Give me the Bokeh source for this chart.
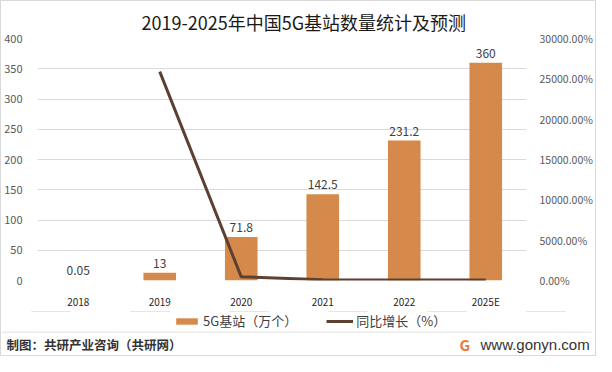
from bokeh.plotting import figure
from bokeh.layouts import column
from bokeh.models import (ColumnDataSource, LinearAxis, Range1d, FixedTicker,
                          CustomJSTickFormatter, Legend, LegendItem, Label,
                          BoxAnnotation, FactorRange)
from bokeh.embed import file_html
from bokeh.resources import INLINE
from bokeh.core.properties import value

# ---- data ----
years = ["2018", "2019", "2020", "2021", "2022", "2025E"]
stations = [0.05, 13, 71.8, 142.5, 231.2, 360]
station_labels = ["0.05", "13", "71.8", "142.5", "231.2", "360"]
growth_years = ["2019", "2020", "2021", "2022", "2025E"]
growth = [25900, 452.3, 98.5, 62.2, 55.7]
left_ticks = [0, 50, 100, 150, 200, 250, 300, 350, 400]
right_ticks = [0, 5000, 10000, 15000, 20000, 25000, 30000]

title_text = "2019-2025年中国5G基站数量统计及预测"
bar_name = "5G基站（万个）"
line_name = "同比增长（%）"
footer_text = "制图：共研产业咨询（共研网）"
site_text = "www.gonyn.com"

FONT = "Noto Sans CJK SC"
BAR_COLOR = "#D58A4B"
LINE_COLOR = "#5C4030"
GRID = "#d9d9d9"
W = 594

src = ColumnDataSource(dict(year=years, val=stations, label=station_labels))
gsrc = ColumnDataSource(dict(year=growth_years, val=growth))

p = figure(x_range=FactorRange(*years), y_range=Range1d(0, 400),
           width=W, height=310, frame_align=False,
           min_border_left=34, min_border_right=62,
           min_border_top=37, min_border_bottom=30,
           output_backend="svg", toolbar_location=None,
           background_fill_color="white", border_fill_color="white",
           outline_line_color=None)
p.x_range.range_padding = 0
p.extra_y_ranges = {"pct": Range1d(0, 30000)}

p.title.text = title_text
p.title.align = "left"
p.title.offset = 104
p.title.text_font = FONT
p.title.text_font_size = "18px"
p.title.text_font_style = "normal"
p.title.text_color = "#1a1a1a"
p.title.standoff = 8

p.vbar(x="year", top="val", width=0.4, source=src,
       fill_color=BAR_COLOR, line_color=None)
p.text(x="year", y="val", text="label", source=src, y_offset=-5,
       text_align="center", text_baseline="bottom",
       text_font=value(FONT), text_font_size="12px", text_color="#404040")
p.line(x="year", y="val", source=gsrc, y_range_name="pct",
       line_width=3, line_color=LINE_COLOR)

# axes
p.yaxis.ticker = FixedTicker(ticks=left_ticks)
for ax in [p.yaxis[0], p.xaxis[0]]:
    ax.axis_line_color = None
    ax.major_tick_line_color = None
    ax.minor_tick_line_color = None
    ax.major_label_text_font = FONT
    ax.major_label_text_color = "#595959"
p.yaxis.major_label_text_font_size = "11px"
p.yaxis.major_label_standoff = 9
p.xaxis.major_label_text_font_size = "10px"
p.xaxis.major_label_text_color = "#262626"
p.xaxis.major_label_standoff = 7

rax = LinearAxis(y_range_name="pct", ticker=FixedTicker(ticks=right_ticks),
                 formatter=CustomJSTickFormatter(code="return tick.toFixed(2) + '%';"))
rax.axis_line_color = None
rax.major_tick_line_color = None
rax.minor_tick_line_color = None
rax.major_label_text_font = FONT
rax.major_label_text_font_size = "10.5px"
rax.major_label_text_color = "#595959"
rax.major_label_standoff = 7
p.add_layout(rax, "right")

p.ygrid.grid_line_color = GRID
p.xgrid.grid_line_color = None

# legend strip: same series drawn out of view, only their legend swatches show
lg = figure(width=W, height=20, x_range=FactorRange(*years), y_range=Range1d(-2, -1),
            frame_align=False, min_border=0, output_backend="svg",
            toolbar_location=None, outline_line_color=None,
            background_fill_color="white", border_fill_color="white")
lg.axis.visible = False
lg.grid.visible = False
lb = lg.vbar(x="year", top="val", width=0.4, source=src,
             fill_color=BAR_COLOR, line_color=None)
ll = lg.line(x="year", y="val", source=gsrc, line_width=3, line_color=LINE_COLOR)
legend = Legend(items=[LegendItem(label=bar_name, renderers=[lb]),
                       LegendItem(label=line_name, renderers=[ll])],
                location=(172, 1), orientation="horizontal",
                glyph_width=27, glyph_height=8, label_standoff=3, spacing=29,
                padding=0, margin=0, border_line_color=None,
                background_fill_alpha=0, label_text_font=FONT,
                label_text_font_size="13px", label_text_color="#404040",
                label_height=18)
lg.add_layout(legend, "center")

# footer strip
f = figure(width=W, height=24, x_range=Range1d(0, W), y_range=Range1d(0, 24),
           frame_align=False, min_border=0, output_backend="svg",
           toolbar_location=None, outline_line_color=None,
           background_fill_color="white", border_fill_color="white")
f.axis.visible = False
f.grid.visible = False
f.add_layout(BoxAnnotation(left=0, right=590, bottom=23, top=24,
                           fill_color=GRID, fill_alpha=1, line_color=None))
f.add_layout(Label(x=5, y=11, text=footer_text, text_align="left",
                   text_baseline="middle", text_font=FONT,
                   text_font_size="12.5px", text_font_style="bold",
                   text_color="#333333"))
f.add_layout(Label(x=458, y=11, text="G", text_align="left",
                   text_baseline="middle", text_font=FONT,
                   text_font_size="15px", text_font_style="bold",
                   text_color="#EE7A3A"))
f.add_layout(Label(x=479, y=11, text=site_text, text_align="left",
                   text_baseline="middle", text_font="Liberation Sans",
                   text_font_size="15px", text_color="#333333"))

layout = column(p, lg, f, spacing=0,
                styles={"border": "1px solid #d9d9d9"})

open("out.html", "w").write(file_html(layout, INLINE))
